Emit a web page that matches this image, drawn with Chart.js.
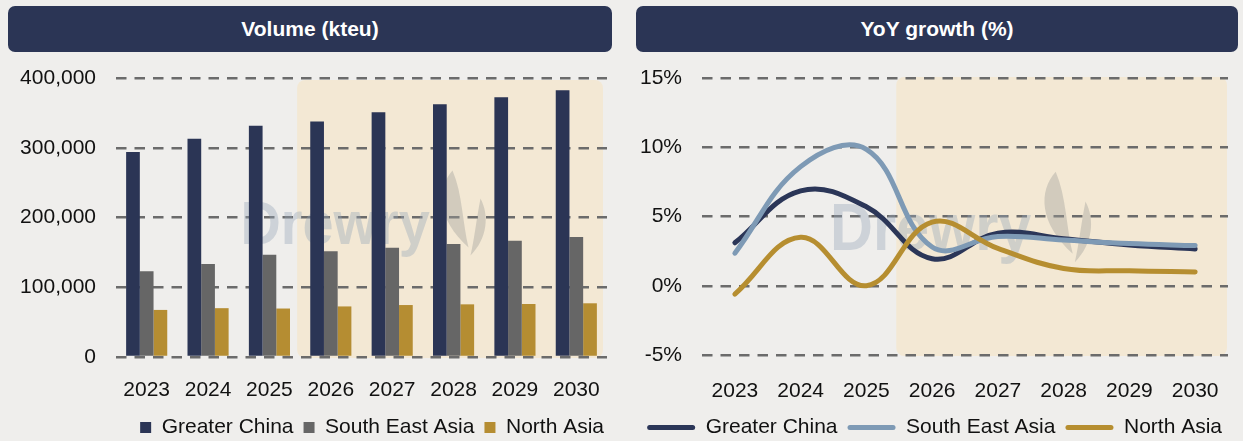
<!DOCTYPE html>
<html>
<head>
<meta charset="utf-8">
<script src="https://cdn.jsdelivr.net/npm/chart.js@4.4.1/dist/chart.umd.min.js"></script>
<style>
  html, body { margin: 0; padding: 0; background: #efeeec; width: 1243px; height: 441px; overflow: hidden; }
  .head {
    position: absolute; top: 6px; height: 46px; z-index: 2;
    background: #2b3555; border-radius: 7px; color: #fff;
    font: bold 21px 'Liberation Sans', Arial, sans-serif;
    display: flex; align-items: center; justify-content: center;
  }
  canvas { position: absolute; top: 0; }
</style>
</head>
<body>
<div class="head" style="left:8px;width:604px;">Volume (kteu)</div>
<div class="head" style="left:636px;width:602px;">YoY growth (%)</div>
<canvas id="vol" width="620" height="448" style="left:0;width:620px;height:448px;"></canvas>
<canvas id="yoy" width="623" height="448" style="left:620px;width:623px;height:448px;"></canvas>
<script>
// Years and regional series
const years = ['2023', '2024', '2025', '2026', '2027', '2028', '2029', '2030'];
const firstForecastYear = '2026';
const seriesNames = ['Greater China', 'South East Asia', 'North Asia'];

// Volume, kteu
const volGreaterChina   = [294000, 313000, 331500, 337500, 351000, 362500, 372500, 382500];
const volSouthEastAsia  = [123000, 133500, 146500, 151500, 156500, 162000, 166500, 172000];
const volNorthAsia      = [67500, 70000, 69500, 72500, 74500, 75500, 76000, 77000];

// Year-on-year growth, %
const yoyGreaterChina   = [3.1, 6.85, 5.7, 1.95, 3.8, 3.4, 2.95, 2.65];
const yoySouthEastAsia  = [2.35, 8.6, 9.85, 2.8, 3.55, 3.3, 3.05, 2.9];
const yoyNorthAsia      = [-0.6, 3.5, 0.0, 4.6, 2.7, 1.25, 1.08, 1.0];

// Axis ticks
const volTicks = [0, 100000, 200000, 300000, 400000];
const yoyTicks = [-5, 0, 5, 10, 15];

const FONT = "'Liberation Sans', Arial, Helvetica, sans-serif";
const barColors  = ['#2b3555', '#666666', '#b58d32'];
const lineColors = ['#2b3658', '#7e9ab5', '#b68e30'];

Chart.defaults.font.family = FONT;
Chart.defaults.color = '#111';

// Tinted panel behind the forecast years
const forecastShade = {
  id: 'forecastShade',
  beforeDraw(chart, args, opts) {
    const { ctx, chartArea: a, scales: { x } } = chart;
    const i = years.indexOf(firstForecastYear);
    const split = (x.getPixelForValue(i - 1) + x.getPixelForValue(i)) / 2 + opts.dx;
    const right = a.right + opts.dr;
    ctx.save();
    ctx.fillStyle = '#f3e8d4';
    ctx.beginPath();
    ctx.roundRect(split, a.top + opts.dt, right - split, a.bottom - a.top - opts.dt + 1, 8);
    ctx.fill();
    ctx.restore();
  }
};

// Faint company mark in the plot area: wordmark plus two-horn flame
function drawFlame(ctx, ox, oy, k) {
  const p = (x, y) => [ox + x * k, oy + y * k];
  ctx.beginPath();
  ctx.moveTo(...p(212, -73));
  ctx.bezierCurveTo(...p(196, -55), ...p(196, -25), ...p(228, 4));
  ctx.bezierCurveTo(...p(222, -20), ...p(222, -50), ...p(212, -73));
  ctx.closePath();
  ctx.moveTo(...p(240, -45));
  ctx.bezierCurveTo(...p(249, -28), ...p(247, -5), ...p(230, 12));
  ctx.bezierCurveTo(...p(234, -5), ...p(236, -25), ...p(240, -45));
  ctx.closePath();
  ctx.fill();
}
const watermark = {
  id: 'watermark',
  beforeDatasetsDraw(chart, args, opts) {
    const { ctx, chartArea: a } = chart;
    const k = opts.size / 62;
    const ox = (a.left + a.right) / 2 + opts.dx;
    const oy = (a.top + a.bottom) / 2 + opts.dy;
    ctx.save();
    ctx.fillStyle = 'rgba(150,165,185,0.38)';
    ctx.font = 'bold ' + opts.size + 'px ' + FONT;
    ctx.textBaseline = 'alphabetic';
    ctx.save();
    ctx.translate(ox, oy);
    ctx.scale(0.9, 1);
    ctx.fillText('Drewry', 0, 0);
    ctx.restore();
    ctx.fillStyle = 'rgba(160,160,155,0.4)';
    drawFlame(ctx, ox, oy, k);
    ctx.restore();
  }
};

// Nudge the bottom legend sideways after layout
const legendShift = {
  id: 'legendShift',
  afterLayout(chart, args, opts) {
    const lg = chart.legend;
    if (lg) { lg.left += opts.dx; lg.right += opts.dx; }
  }
};

function flatLegendLabels(chart) {
  return Chart.defaults.plugins.legend.labels.generateLabels(chart)
    .map(l => ({ ...l, lineWidth: 0 }))
    .sort((a, b) => a.datasetIndex - b.datasetIndex);
}

const gridStyle = { color: '#6b6b6b', lineWidth: 2.5, drawTicks: false };
const dashStyle = { display: false, dash: [10.5, 8] };

// Volume bars
new Chart(document.getElementById('vol'), {
  type: 'bar',
  data: {
    labels: years,
    datasets: [volGreaterChina, volSouthEastAsia, volNorthAsia].map((d, i) => ({
      label: seriesNames[i],
      data: d,
      backgroundColor: barColors[i],
      borderWidth: 0,
      categoryPercentage: 0.67,
      barPercentage: 1.0
    }))
  },
  options: {
    responsive: false,
    animation: false,
    devicePixelRatio: 1,
    layout: { padding: { top: 78, right: 13, left: 0, bottom: 0 } },
    plugins: {
      tooltip: { enabled: false },
      legend: {
        position: 'bottom', align: 'end',
        labels: { boxWidth: 11, boxHeight: 11, padding: 10, color: '#111',
                  font: { size: 21 }, generateLabels: flatLegendLabels }
      },
      legendShift: { dx: 7 },
      forecastShade: { dx: -3, dr: -4, dt: 2 },
      watermark: { size: 62, dx: -121, dy: 26 }
    },
    scales: {
      x: {
        grid: { display: false },
        border: { display: false },
        ticks: { font: { size: 21 }, color: '#111', padding: 13, maxRotation: 0 },
        afterFit(s) { s.height = 50; }
      },
      y: {
        min: volTicks[0], max: volTicks[volTicks.length - 1],
        afterBuildTicks(s) { s.ticks = volTicks.map(v => ({ value: v })); },
        grid: gridStyle,
        border: dashStyle,
        ticks: { font: { size: 21 }, color: '#111', padding: 20,
                 callback: v => v.toLocaleString('en-US') },
        afterFit(s) { s.width = 116; }
      }
    }
  },
  plugins: [forecastShade, watermark, legendShift]
});

// Growth lines
new Chart(document.getElementById('yoy'), {
  type: 'line',
  data: {
    labels: years,
    datasets: [yoyGreaterChina, yoySouthEastAsia, yoyNorthAsia].map((d, i) => ({
      label: seriesNames[i],
      data: d,
      borderColor: lineColors[i],
      backgroundColor: lineColors[i],
      borderWidth: 5,
      borderCapStyle: 'round',
      borderJoinStyle: 'round',
      pointRadius: 0,
      tension: 0.4,
      fill: false,
      order: 3 - i
    }))
  },
  options: {
    responsive: false,
    animation: false,
    devicePixelRatio: 1,
    layout: { padding: { top: 78, right: 15, left: 0, bottom: 0 } },
    plugins: {
      tooltip: { enabled: false },
      legend: {
        position: 'bottom', align: 'end',
        labels: { boxWidth: 48, boxHeight: 5, padding: 10, color: '#111',
                  useBorderRadius: true, borderRadius: 2.5,
                  font: { size: 21 }, generateLabels: flatLegendLabels }
      },
      legendShift: { dx: 4 },
      forecastShade: { dx: -3, dr: -1, dt: -1 },
      watermark: { size: 66, dx: -135, dy: 33 }
    },
    scales: {
      x: {
        offset: true,
        grid: { display: false },
        border: { display: false },
        ticks: { font: { size: 21 }, color: '#111', padding: 15.4, maxRotation: 0 },
        afterFit(s) { s.height = 52; }
      },
      y: {
        min: yoyTicks[0], max: yoyTicks[yoyTicks.length - 1],
        afterBuildTicks(s) { s.ticks = yoyTicks.map(v => ({ value: v })); },
        grid: gridStyle,
        border: dashStyle,
        ticks: { font: { size: 21 }, color: '#111', padding: 20, callback: v => v + '%' },
        afterFit(s) { s.width = 82; }
      }
    }
  },
  plugins: [forecastShade, watermark, legendShift]
});
</script>
</body>
</html>
